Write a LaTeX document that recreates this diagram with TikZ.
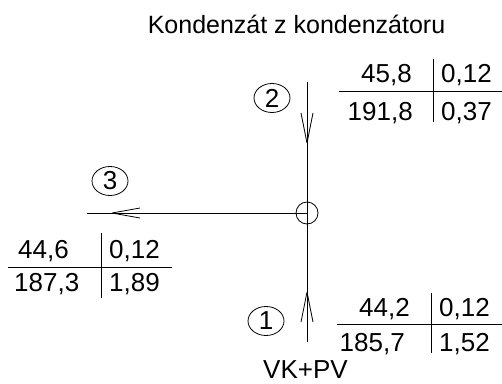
\documentclass[tikz,border=0pt]{standalone}
\usepackage{fontspec}
\setmainfont{Liberation Sans}
\usetikzlibrary{shapes.geometric}
\begin{document}
\begin{tikzpicture}[x=1pt,y=-1pt,
  txt/.style={inner sep=0pt,font=\fontsize{26}{30}\selectfont},
  ttl/.style={inner sep=0pt,font=\fontsize{25}{29}\selectfont},
  num/.style={draw,ellipse,line width=0.8pt,minimum width=36pt,minimum height=29pt,inner sep=0pt,font=\fontsize{26}{30}\selectfont},
  ln/.style={line width=0.8pt},
  barbs/.style={line width=0.8pt}]
\useasboundingbox (0,0) rectangle (502,383);

% title and bottom label
\node[ttl,anchor=base] (title) at (296.5,33) {Kondenzát z kondenzátoru};
\node[txt,anchor=base] (vk) at (305.5,378) {VK+PV};

% junction and stream ends
\node[draw,circle,ln,minimum size=22pt,inner sep=0pt] (j) at (307,213) {};
\coordinate (top) at (307,82);
\coordinate (bot) at (307,342);
\coordinate (left) at (87,213);
\coordinate (t2) at (307,143);
\coordinate (t1) at (307,292);
\coordinate (t3) at (112,213);

\draw[ln] (top) -- (j.north);
\draw[ln] (j.north) -- (j.south);
\draw[ln] (j.south) -- (bot);
\draw[ln] (left) -- (j.center);

% arrow barbs
\draw[barbs] (t2) -- ++(-6,-30) (t2) -- ++(6,-30);
\draw[barbs] (t1) -- ++(-6,30) (t1) -- ++(6,30);
\draw[barbs] (t3) -- ++(28,-5) (t3) -- ++(28,5);

% stream numbers
\node[num] (n1) at (266,321) {1};
\node[num] (n2) at (272,98) {2};
\node[num] (n3) at (110,181) {3};

% table 2 (top right)
\draw[ln] (339,91) -- (502,91);
\draw[ln] (433,59) -- (433,122);
\node[txt,anchor=base east] (a2) at (412,82) {45,8};
\node[txt,anchor=base west] (b2) at (441,82) {0,12};
\node[txt,anchor=base east] (c2) at (413,120) {191,8};
\node[txt,anchor=base west] (d2) at (441,120) {0,37};

% table 1 (bottom right)
\draw[ln] (337,324) -- (502,324);
\draw[ln] (431,293) -- (431,353);
\node[txt,anchor=base east] (a1) at (410,316) {44,2};
\node[txt,anchor=base west] (b1) at (439,316) {0,12};
\node[txt,anchor=base east] (c1) at (405,351) {185,7};
\node[txt,anchor=base west] (d1) at (439,351) {1,52};

% table 3 (left)
\draw[ln] (8,267) -- (172,267);
\draw[ln] (101,233) -- (101,298);
\node[txt,anchor=base west] (a3) at (18,258) {44,6};
\node[txt,anchor=base west] (b3) at (109,258) {0,12};
\node[txt,anchor=base west] (c3) at (14,291) {187,3};
\node[txt,anchor=base west] (d3) at (109,291) {1,89};
\end{tikzpicture}
\end{document}
